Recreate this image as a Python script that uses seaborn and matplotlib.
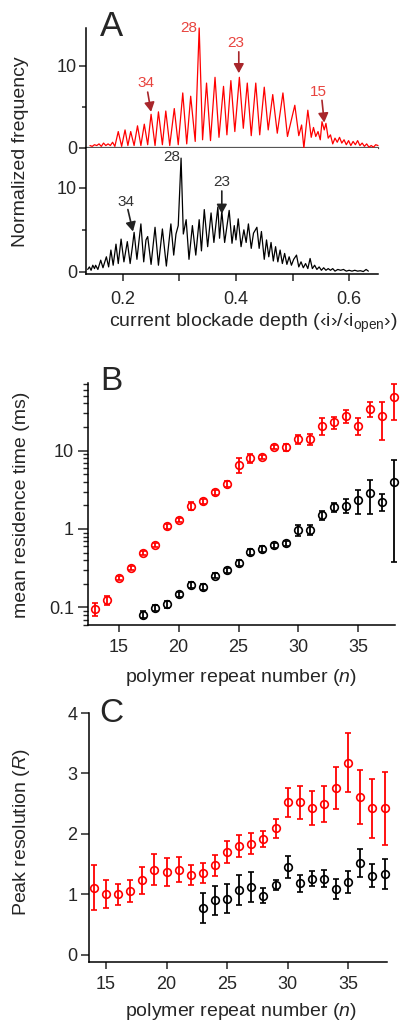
import matplotlib
matplotlib.use("Agg")
import matplotlib.pyplot as plt
import seaborn as sns
import pandas as pd

# ---------------- data ----------------
# Panel A, red histogram (blockade depth, normalized frequency)
red_x = [0.142, 0.146, 0.150, 0.154, 0.158, 0.162, 0.166, 0.170, 0.174, 0.178, 0.182, 0.186,
         0.192, 0.198, 0.204, 0.209, 0.214, 0.220, 0.226, 0.232, 0.238, 0.244,
         0.250, 0.257, 0.263, 0.270, 0.276, 0.283, 0.291, 0.298, 0.306, 0.313,
         0.320, 0.328, 0.335, 0.341, 0.348, 0.355, 0.363, 0.370, 0.378, 0.384,
         0.391, 0.398, 0.406, 0.413, 0.420, 0.427, 0.435, 0.442, 0.450, 0.457,
         0.465, 0.473, 0.483, 0.491, 0.504, 0.511, 0.516, 0.520, 0.527, 0.533,
         0.537, 0.541, 0.545, 0.549, 0.552, 0.556, 0.559, 0.563, 0.567, 0.571,
         0.575, 0.579, 0.583, 0.587, 0.591, 0.595, 0.599, 0.603, 0.607, 0.611,
         0.615, 0.619, 0.623, 0.627, 0.631, 0.635, 0.639, 0.643, 0.647, 0.651]
red_y = [0.3, 0.2, 0.4, 0.3, 0.5, 0.2, 0.6, 0.3, 0.5, 0.3, 0.7, 0.2,
         2.0, 0.2, 2.2, 0.3, 2.0, 0.3, 2.7, 0.3, 2.9, 0.4,
         4.1, 0.3, 4.4, 0.4, 4.5, 0.3, 4.8, 0.4, 6.7, 0.5,
         6.3, 0.8, 14.6, 1.0, 7.9, 0.9, 8.6, 1.3, 7.5, 1.6,
         8.2, 2.0, 8.6, 2.4, 7.9, 1.5, 7.9, 1.6, 7.4, 2.2,
         6.5, 1.8, 6.7, 1.4, 5.2, 1.5, 2.8, 0.0, 4.6, 1.3,
         2.5, 1.4, 2.0, 1.0, 3.2, 2.2, 3.0, 1.2, 1.6, 0.5,
         1.2, 0.7, 1.3, 0.6, 1.0, 0.4, 0.9, 0.3, 0.8, 0.4,
         0.9, 0.3, 0.6, 0.2, 0.5, 0.1, 0.3, 0.1, 0.4, 0.3]

# Panel A, black histogram
blk_x = [0.138, 0.141, 0.144, 0.147, 0.150, 0.152, 0.156, 0.161, 0.165, 0.171, 0.175, 0.179,
         0.183, 0.188, 0.192, 0.197, 0.202, 0.208, 0.213, 0.217, 0.220, 0.225,
         0.232, 0.237, 0.241, 0.244, 0.250, 0.257, 0.263, 0.270, 0.277, 0.285,
         0.290, 0.294, 0.298, 0.303, 0.307, 0.312, 0.317, 0.323, 0.329, 0.335,
         0.339, 0.344, 0.350, 0.356, 0.361, 0.368, 0.371, 0.375, 0.380, 0.388,
         0.393, 0.397, 0.400, 0.404, 0.409, 0.414, 0.418, 0.422, 0.427, 0.431,
         0.437, 0.441, 0.445, 0.450, 0.454, 0.458, 0.462, 0.466, 0.470, 0.474,
         0.478, 0.482, 0.486, 0.490, 0.494, 0.498, 0.502, 0.507, 0.511, 0.515,
         0.519, 0.523, 0.527, 0.531, 0.535, 0.539, 0.543, 0.547, 0.551, 0.555,
         0.559, 0.563, 0.567, 0.571, 0.575, 0.580, 0.585, 0.590, 0.595, 0.600,
         0.605, 0.610, 0.615, 0.620, 0.625, 0.630, 0.634]
blk_y = [0.3, 0.6, 0.2, 0.8, 0.4, 0.8, 0.3, 1.4, 0.5, 1.8, 0.6, 2.6,
         0.8, 3.3, 1.0, 3.9, 1.2, 3.6, 1.0, 3.0, 4.7, 1.5,
         5.7, 1.2, 3.8, 4.2, 0.9, 5.3, 0.8, 5.1, 0.7, 5.7,
         2.0, 4.5, 5.5, 13.5, 4.5, 6.2, 1.5, 5.5, 2.0, 6.2,
         2.5, 7.4, 3.0, 7.0, 3.5, 7.7, 4.0, 7.2, 3.5, 7.3,
         3.4, 5.5, 3.8, 6.3, 3.0, 5.0, 3.5, 5.7, 2.8, 4.6,
         5.3, 2.8, 4.8, 1.5, 3.8, 1.8, 3.5, 1.3, 3.0, 1.2,
         2.6, 1.0, 2.2, 0.9, 1.8, 0.8, 1.5, 2.0, 0.6, 1.2,
         0.5, 1.0, 0.4, 1.6, 0.4, 0.8, 0.3, 0.6, 0.2, 0.5,
         0.2, 0.4, 0.2, 0.4, 0.1, 0.3, 0.2, 0.3, 0.1, 0.2,
         0.1, 0.2, 0.1, 0.15, 0.05, 0.3, 0.1]

# Panel B, mean residence time (ms) vs repeat number
res_red_n = list(range(13, 39))
res_red = [0.096, 0.123, 0.238, 0.318, 0.494, 0.63, 1.08, 1.31, 1.98, 2.25, 2.95, 3.77,
           6.6, 8.0, 8.2, 11.2, 11.0, 14.1, 14.0, 20.7, 23.0, 27.7, 20.7, 34.0, 27.7, 47.9]
res_red_err = [0.019, 0.015, 0.015, 0.02, 0.03, 0.04, 0.07, 0.08, 0.25, 0.15, 0.2, 0.3,
               1.4, 1.0, 0.5, 0.6, 1.2, 1.8, 2.2, 5.0, 4.0, 5.0, 5.0, 7.5, 14.0, 23.0]
res_blk_n = list(range(17, 39))
res_blk = [0.081, 0.098, 0.109, 0.146, 0.193, 0.182, 0.254, 0.297, 0.368, 0.509, 0.556,
           0.618, 0.663, 0.96, 0.98, 1.52, 1.9, 1.98, 2.36, 2.87, 2.24, 4.03]
res_blk_err = [0.008, 0.008, 0.01, 0.012, 0.015, 0.015, 0.02, 0.025, 0.03, 0.04, 0.05,
               0.04, 0.05, 0.15, 0.15, 0.2, 0.25, 0.4, 0.8, 1.3, 0.55, 3.65]

# Panel C, peak resolution R
R_red_n = list(range(14, 39))
R_red = [1.11, 1.01, 1.0, 1.06, 1.23, 1.41, 1.37, 1.41, 1.32, 1.35, 1.48, 1.70, 1.80,
         1.84, 1.91, 2.09, 2.52, 2.52, 2.43, 2.49, 2.76, 3.18, 2.61, 2.42, 2.42]
R_red_err = [0.37, 0.23, 0.17, 0.18, 0.23, 0.26, 0.23, 0.2, 0.17, 0.16, 0.17, 0.19, 0.18,
             0.18, 0.13, 0.15, 0.24, 0.27, 0.28, 0.3, 0.35, 0.49, 0.45, 0.49, 0.61]
R_blk_n = list(range(23, 39))
R_blk = [0.77, 0.90, 0.93, 1.07, 1.12, 0.98, 1.15, 1.45, 1.18, 1.26, 1.26, 1.09, 1.20,
         1.52, 1.31, 1.33]
R_blk_err = [0.25, 0.24, 0.24, 0.25, 0.25, 0.13, 0.08, 0.18, 0.14, 0.12, 0.14, 0.16, 0.18,
             0.23, 0.19, 0.25]

# ---------------- style ----------------
sns.set_style("ticks")
plt.rcParams['font.family'] = ['Liberation Sans', 'DejaVu Sans']
plt.rcParams['mathtext.fontset'] = 'custom'
plt.rcParams['mathtext.rm'] = 'Liberation Sans'
plt.rcParams['mathtext.it'] = 'Liberation Sans:italic'
plt.rcParams['axes.linewidth'] = 1.1
plt.rcParams['axes.edgecolor'] = 'black'

RED = '#ff0000'
TXT_RED = '#e8443f'
ARR_RED = '#a8262b'
TICK_FS = 13
LAB_FS = 14

W, H = 401, 1024
fig = plt.figure(figsize=(W / 100, H / 100), dpi=100)


def box(left, top, right, bottom):
    return [left / W, 1 - bottom / H, (right - left) / W, (bottom - top) / H]


def arrow(ax, tail, tip, color):
    ax.annotate('', xy=tip, xytext=tail,
                arrowprops=dict(arrowstyle='-|>,head_length=0.55,head_width=0.3',
                                color=color, lw=1.2, shrinkA=0, shrinkB=0))


# ---------------- panel A ----------------
axA1 = fig.add_axes(box(86, 28, 378, 148))
axA2 = fig.add_axes(box(86, 148, 378, 274))

df_red = pd.DataFrame({'x': red_x, 'y': red_y})
df_blk = pd.DataFrame({'x': blk_x, 'y': blk_y})
sns.lineplot(data=df_red, x='x', y='y', ax=axA1, color=RED, lw=0.9,
             estimator=None, sort=False, clip_on=False)
sns.lineplot(data=df_blk, x='x', y='y', ax=axA2, color='black', lw=0.9,
             estimator=None, sort=False)

for ax in (axA1, axA2):
    ax.set_xlim(0.135, 0.651)
    ax.set_xlabel('')
    ax.set_ylabel('')
    ax.spines['top'].set_visible(False)
    ax.spines['right'].set_visible(False)
    ax.set_yticks([0, 10])
    ax.set_yticks([5], minor=True)
    ax.tick_params(axis='y', which='major', length=5, width=1.1, pad=1.5, labelsize=TICK_FS)
    ax.tick_params(axis='y', which='minor', length=3, width=1.1)

axA1.set_ylim(0, 14.6)
axA1.spines['bottom'].set_color('#555555')
axA1.spines['bottom'].set_linewidth(1.6)
axA1.set_xticks([])
axA1.spines['bottom'].set_zorder(0)

axA2.set_ylim(-0.24, 14.7)
axA2.set_xticks([0.2, 0.3, 0.4, 0.5, 0.6])
axA2.set_xticklabels(['0.2', '', '0.4', '', '0.6'])
axA2.tick_params(axis='x', length=5, width=1.1, pad=7, labelsize=TICK_FS)

# annotations, red
axA1.text(0.331, 14.6, '28', color=TXT_RED, fontsize=11, ha='right', va='center')
axA1.text(0.400, 12.8, '23', color=TXT_RED, fontsize=11, ha='center', va='center')
arrow(axA1, (0.405, 11.7), (0.405, 9.1), ARR_RED)
axA1.text(0.241, 7.9, '34', color=TXT_RED, fontsize=11, ha='center', va='center')
arrow(axA1, (0.244, 6.8), (0.250, 4.4), ARR_RED)
axA1.text(0.545, 6.8, '15', color=TXT_RED, fontsize=11, ha='center', va='center')
arrow(axA1, (0.552, 5.8), (0.556, 3.1), ARR_RED)

# annotations, black
axA2.text(0.301, 13.6, '28', color='#333333', fontsize=11, ha='right', va='center')
axA2.text(0.375, 10.7, '23', color='#333333', fontsize=11, ha='center', va='center')
arrow(axA2, (0.375, 9.6), (0.375, 6.9), '#222222')
axA2.text(0.205, 8.3, '34', color='#333333', fontsize=11, ha='center', va='center')
arrow(axA2, (0.209, 7.4), (0.218, 4.8), '#222222')

fig.text(21 / W, 1 - 152 / H, 'Normalized frequency', rotation=90,
         ha='center', va='center', fontsize=LAB_FS)
fig.text(253 / W, 1 - 323 / H, 'current blockade depth (‹i›/‹i$_{\\rm open}$›)',
         ha='center', va='center', fontsize=LAB_FS)
fig.text(111 / W, 1 - 26 / H, 'A', ha='center', va='center', fontsize=25)

# ---------------- panel B ----------------
axB = fig.add_axes(box(88, 383, 395, 625))
ebk = dict(fmt='o', ms=5.5, mfc='none', mew=1.2, capsize=2.5, elinewidth=1.3,
           capthick=1.3, clip_on=False)
axB.errorbar(res_red_n, res_red, yerr=res_red_err, color=RED, **ebk)
axB.errorbar(res_blk_n, res_blk, yerr=res_blk_err, color='black', **ebk)
axB.set_yscale('log')
axB.set_ylim(0.0596, 72.8)
axB.set_xlim(12.45, 38.05)
axB.set_yticks([0.1, 1, 10])
axB.set_yticklabels(['0.1', '1', '10'])
axB.set_xticks([15, 20, 25, 30, 35])
axB.tick_params(axis='y', which='major', length=7, width=1.1, pad=3, labelsize=TICK_FS)
axB.tick_params(axis='y', which='minor', length=3.5, width=1.0)
axB.tick_params(axis='x', length=5, width=1.1, pad=5, labelsize=TICK_FS)
axB.spines['top'].set_visible(False)
axB.spines['right'].set_visible(False)

fig.text(22 / W, 1 - 505 / H, 'mean residence time (ms)', rotation=90,
         ha='center', va='center', fontsize=LAB_FS)
fig.text(241 / W, 1 - 677 / H, 'polymer repeat number ($n$)',
         ha='center', va='center', fontsize=LAB_FS)
fig.text(111 / W, 1 - 382 / H, 'B', ha='center', va='center', fontsize=24)

# ---------------- panel C ----------------
axC = fig.add_axes(box(89, 713, 387, 962))
axC.errorbar(R_red_n, R_red, yerr=R_red_err, color=RED, **ebk)
axC.errorbar(R_blk_n, R_blk, yerr=R_blk_err, color='black', **ebk)
axC.set_ylim(-0.12, 4.0)
axC.set_xlim(13.6, 38.2)
axC.set_yticks([0, 1, 2, 3, 4])
axC.set_xticks([15, 20, 25, 30, 35])
axC.tick_params(axis='y', length=5.5, width=1.1, pad=3, labelsize=TICK_FS)
axC.tick_params(axis='x', length=5, width=1.1, pad=5, labelsize=TICK_FS)
axC.spines['top'].set_visible(False)
axC.spines['right'].set_visible(False)

fig.text(22 / W, 1 - 832 / H, 'Peak resolution ($R$)', rotation=90,
         ha='center', va='center', fontsize=LAB_FS)
fig.text(241 / W, 1 - 1012 / H, 'polymer repeat number ($n$)',
         ha='center', va='center', fontsize=LAB_FS)
fig.text(111 / W, 1 - 713 / H, 'C', ha='center', va='center', fontsize=24)

fig.savefig('out.png', dpi=100)
